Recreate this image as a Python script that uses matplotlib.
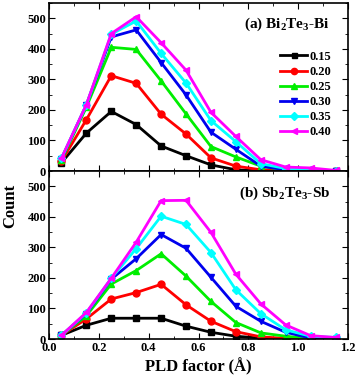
import matplotlib
matplotlib.use('Agg')
import matplotlib.pyplot as plt
from matplotlib.ticker import MultipleLocator

plt.rcParams['font.family'] = 'Liberation Serif'
plt.rcParams['font.weight'] = 'bold'
plt.rcParams['mathtext.fontset'] = 'custom'
plt.rcParams['mathtext.rm'] = 'Liberation Serif:bold'
plt.rcParams['mathtext.bf'] = 'Liberation Serif:bold'
plt.rcParams['mathtext.default'] = 'regular'

# PLD factor bins
pld = [0.05, 0.15, 0.25, 0.35, 0.45, 0.55, 0.65, 0.75, 0.85, 0.95, 1.05, 1.15]
labels = ['0.15', '0.20', '0.25', '0.30', '0.35', '0.40']

# (a) Bi2Te3-Bi counts
bi_015 = [27, 124, 195, 152, 82, 50, 20, 4, 0, 0, 0, 0]
bi_020 = [32, 168, 312, 287, 186, 121, 43, 16, 4, 0, 0, 0]
bi_025 = [35, 209, 405, 398, 295, 187, 80, 46, 16, 2, 0, 0]
bi_030 = [40, 217, 439, 462, 355, 249, 127, 71, 16, 4, 0, 0]
bi_035 = [42, 216, 448, 491, 385, 288, 165, 96, 24, 8, 2, 0]
bi_040 = [42, 217, 450, 505, 420, 330, 192, 113, 37, 13, 10, 2]

# (b) Sb2Te3-Sb counts
sb_015 = [12, 45, 68, 68, 68, 42, 22, 9, 3, 0, 0, 0]
sb_020 = [12, 66, 131, 152, 179, 112, 58, 24, 7, 2, 0, 0]
sb_025 = [12, 76, 180, 224, 279, 206, 123, 54, 20, 9, 1, 0]
sb_030 = [12, 83, 196, 263, 342, 297, 202, 107, 58, 22, 3, 0]
sb_035 = [12, 85, 199, 296, 402, 375, 283, 161, 83, 30, 9, 5]
sb_040 = [12, 87, 199, 317, 453, 454, 349, 212, 115, 46, 11, 5]

colors = ['black', 'red', '#00ee00', '#0000ee', '#00ffff', '#ff00ff']
markers = ['s', 'o', '^', 'v', 'D', '<']
msizes = [4, 5, 5, 5, 4, 5]

fig = plt.figure(figsize=(3.57, 3.77), dpi=100)
ax1 = fig.add_axes([49/357, 1 - 171/377, 299/357, 168/377])
ax2 = fig.add_axes([49/357, 1 - 339/377, 299/357, 168/377], sharex=ax1)

for ax, series in [(ax1, [bi_015, bi_020, bi_025, bi_030, bi_035, bi_040]),
                   (ax2, [sb_015, sb_020, sb_025, sb_030, sb_035, sb_040])]:
    for s, c, m, ms, lab in zip(series, colors, markers, msizes, labels):
        ax.plot(pld, s, color=c, marker=m, markersize=ms, linewidth=2, label=lab)
    ax.set_xlim(0, 1.2)
    ax.set_ylim(0, 550)
    ax.yaxis.set_major_locator(MultipleLocator(100))
    ax.yaxis.set_minor_locator(MultipleLocator(50))
    ax.xaxis.set_major_locator(MultipleLocator(0.2))
    ax.xaxis.set_minor_locator(MultipleLocator(0.1))
    ax.tick_params(which='both', direction='in', top=True, right=True,
                   labelsize=9, pad=2)
    ax.tick_params(which='major', length=4)
    ax.tick_params(which='minor', length=2)
    for sp in ax.spines.values():
        sp.set_linewidth(1.2)

ax1.tick_params(labelbottom=False)
ax1.text(0.94, 0.875, '(a) Bi$_2$Te$_3$-Bi', transform=ax1.transAxes,
         ha='right', va='center', fontsize=11, fontweight='bold')
ax2.text(0.94, 0.865, '(b) Sb$_2$Te$_3$-Sb', transform=ax2.transAxes,
         ha='right', va='center', fontsize=11, fontweight='bold')

ax1.legend(loc='upper right', bbox_to_anchor=(0.97, 0.76), frameon=False,
           fontsize=9, handlelength=2.2, handletextpad=0.2, labelspacing=0.25,
           borderaxespad=0.2, markerscale=0.9)

ax2.set_xlabel('PLD factor (Å)', fontsize=12, fontweight='bold', labelpad=3)
fig.text(10/357, 171/377, 'Count', rotation=90, ha='center', va='center',
         fontsize=12, fontweight='bold')

fig.savefig('out.png', dpi=100)
